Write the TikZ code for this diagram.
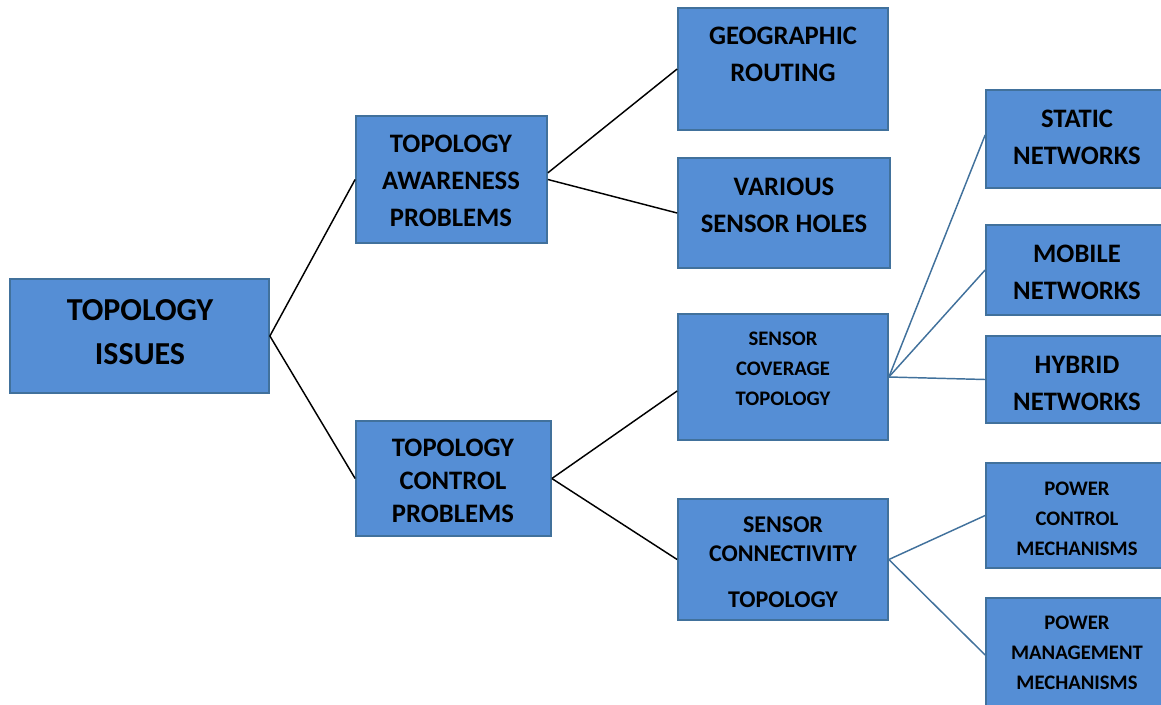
\documentclass[tikz,border=0pt]{standalone}
\usepackage{fontspec}
\setmainfont{Carlito}
\usetikzlibrary{fit}

\definecolor{boxfill}{RGB}{85,142,213}
\definecolor{boxline}{RGB}{65,113,156}

\begin{document}
\begin{tikzpicture}[x=0.75pt, y=-0.75pt, line join=miter,
		box/.style={draw=boxline, fill=boxfill, line width=1.3pt, inner sep=0pt},
		txtbig/.style={align=center, font=\fontsize{24}{33}\selectfont\bfseries},
		txt/.style={align=center, font=\fontsize{20}{27.75}\selectfont\bfseries},
		txttight/.style={align=center, font=\fontsize{20}{24.75}\selectfont\bfseries},
		txtmid/.style={align=center, font=\fontsize{18}{21.75}\selectfont\bfseries},
		txtsmall/.style={align=center, font=\fontsize{15.5}{22.5}\selectfont\bfseries},
		link/.style={black, line width=1.1pt},
		sublink/.style={boxline, line width=1.1pt}]
	% 1. canvas (right column runs off the page edge)
	\clip (0,0) rectangle (1161,704);
	
	% 2. boxes, given by their corners
	\node[box, fit={(10,279) (269,393)}] (issues) {};
	\node[box, fit={(356,116) (547,243)}] (aware) {};
	\node[box, fit={(356,421) (551,536)}] (ctrl) {};
	\node[box, fit={(678,8) (888,130)}] (geo) {};
	\node[box, fit={(678,158) (890,268)}] (holes) {};
	\node[box, fit={(678,314) (888,440)}] (cover) {};
	\node[box, fit={(678,499) (888,620)}] (conn) {};
	\node[box, fit={(986,90) (1170,188)}] (static) {};
	\node[box, fit={(986,225) (1170,315)}] (mobile) {};
	\node[box, fit={(986,336) (1170,423)}] (hybrid) {};
	\node[box, fit={(986,463) (1170,568)}] (pctrl) {};
	\node[box, fit={(986,598) (1170,712)}] (pmgmt) {};
	
	% 3. box texts
	\node[txtbig] (issuesT) at (140,332) {TOPOLOGY\\ISSUES};
	\node[txt] (awareT) at (451,181) {TOPOLOGY\\AWARENESS\\PROBLEMS};
	\node[txttight] (ctrlT) at (453,481) {TOPOLOGY\\CONTROL\\PROBLEMS};
	\node[txt] (geoT) at (783,54) {GEOGRAPHIC\\ROUTING};
	\node[txt] (holesT) at (784,205) {VARIOUS\\SENSOR HOLES};
	\node[txtsmall] (coverT) at (783,368.5) {SENSOR\\COVERAGE\\TOPOLOGY};
	\node[txtmid] (connT) at (783,562) {SENSOR\\CONNECTIVITY\\[12.75pt]TOPOLOGY};
	\node[txt] (staticT) at (1077,137) {STATIC\\NETWORKS};
	\node[txt] (mobileT) at (1077,272) {MOBILE\\NETWORKS};
	\node[txt] (hybridT) at (1077,383) {HYBRID\\NETWORKS};
	\node[txtsmall] (pctrlT) at (1077,518.5) {POWER\\CONTROL\\MECHANISMS};
	\node[txtsmall] (pmgmtT) at (1077,652.5) {POWER\\MANAGEMENT\\MECHANISMS};
	
	% 4. first two levels (black)
	\draw[link] (issues.east) -- (aware.west);
	\draw[link] (issues.east) -- (ctrl.west);
	\draw[link] ([yshift=5pt]aware.east) -- (geo.west);
	\draw[link] (aware.east) -- (holes.west);
	\draw[link] (ctrl.east) -- ([yshift=-10.5pt]cover.west);
	\draw[link] (ctrl.east) -- (conn.west);
	
	% 5. last level (blue)
	\draw[sublink] (cover.east) -- ([yshift=3pt]static.west);
	\draw[sublink] (cover.east) -- (mobile.west);
	\draw[sublink] (cover.east) -- (hybrid.west);
	\draw[sublink] (conn.east) -- (pctrl.west);
	\draw[sublink] (conn.east) -- (pmgmt.west);
\end{tikzpicture}
\end{document}
